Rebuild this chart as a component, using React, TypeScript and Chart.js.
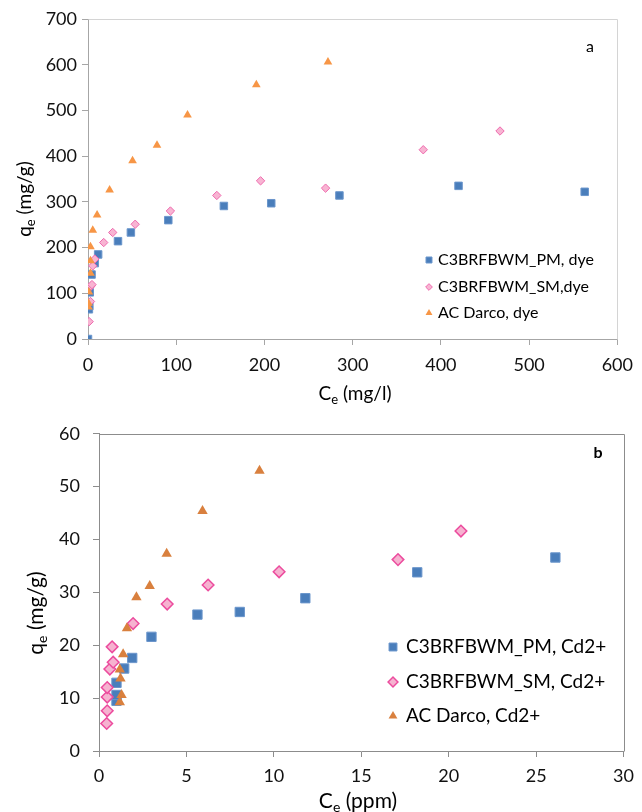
import React, { useEffect, useRef } from 'react';
import { Chart, registerables } from 'chart.js';
import { drawPoint } from 'chart.js/helpers';

Chart.register(...registerables);

const FONT = 'Lato, "Open Sans", sans-serif';

// ---------- Chart a: dye ----------
const dyeXTicks = [0, 100, 200, 300, 400, 500, 600];
const dyeYTicks = [0, 100, 200, 300, 400, 500, 600, 700];

const dyePmCe = [0, 1, 1.5, 2, 4, 7.7, 11.5, 34, 48.6, 91, 154, 207.7, 285, 420, 563];
const dyePmQe = [0, 65, 72, 102, 141, 166, 185, 214, 233, 260, 291, 297, 314, 335, 322];

const dyeSmCe = [1.3, 2.8, 3.6, 4.5, 5.4, 7.7, 17.8, 28, 53.5, 93.4, 146, 195.6, 269.3, 380, 467];
const dyeSmQe = [38, 82, 116, 119, 160, 175, 211, 233, 251, 280, 314, 346, 330, 414, 455];

const dyeAcCe = [0.6, 0.6, 1, 2.8, 2.8, 2.8, 5.4, 10.3, 24.5, 50.5, 78.2, 112.8, 190.8, 272];
const dyeAcQe = [70, 78, 103, 144, 171, 202, 238, 271, 326, 390, 424, 490, 556, 606];

const dyeLabels = ['C3BRFBWM_PM, dye', 'C3BRFBWM_SM,dye', 'AC Darco, dye'];

// ---------- Chart b: Cd2+ ----------
const cdXTicks = [0, 5, 10, 15, 20, 25, 30];
const cdYTicks = [0, 10, 20, 30, 40, 50, 60];

const cdPmCe = [1.0, 1.0, 1.0, 1.44, 1.9, 3.0, 5.63, 8.05, 11.8, 18.2, 26.1];
const cdPmQe = [9.5, 10.6, 12.9, 15.6, 17.6, 21.6, 25.8, 26.3, 28.9, 33.8, 36.6];

const cdSmCe = [0.44, 0.47, 0.47, 0.47, 0.62, 0.81, 0.75, 1.95, 3.9, 6.24, 10.3, 17.1, 20.7];
const cdSmQe = [5.2, 7.6, 10.2, 12.0, 15.5, 16.8, 19.7, 24.1, 27.8, 31.4, 33.9, 36.2, 41.6];

const cdAcCe = [1.19, 1.29, 1.23, 1.19, 1.38, 1.6, 2.14, 2.9, 3.87, 5.92, 9.18];
const cdAcQe = [9.2, 10.6, 13.7, 15.4, 18.3, 23.2, 29.1, 31.2, 37.3, 45.4, 53.0];

const cdLabels = ['C3BRFBWM_PM, Cd2+', 'C3BRFBWM_SM, Cd2+', 'AC Darco, Cd2+'];

const pts = (xs: number[], ys: number[]) => xs.map((x, i) => ({ x, y: ys[i] }));

type SeriesStyle = { style: string; radius: number; fill: string; stroke: string; bw: number };

function drawSub(ctx: CanvasRenderingContext2D, main: string, sub: string, rest: string, cx: number, cy: number, size: number, rotate: boolean) {
  ctx.save();
  ctx.translate(cx, cy);
  if (rotate) ctx.rotate(-Math.PI / 2);
  const subSize = Math.round(size * 0.68);
  ctx.font = `${size}px ${FONT}`;
  const w1 = ctx.measureText(main).width;
  const w3 = ctx.measureText(rest).width;
  ctx.font = `${subSize}px ${FONT}`;
  const w2 = ctx.measureText(sub).width;
  const total = w1 + w2 + w3;
  let x = -total / 2;
  ctx.fillStyle = '#000';
  ctx.textBaseline = 'middle';
  ctx.textAlign = 'left';
  ctx.font = `${size}px ${FONT}`;
  ctx.fillText(main, x, 0);
  x += w1;
  ctx.font = `${subSize}px ${FONT}`;
  ctx.fillText(sub, x, size * 0.3);
  x += w2;
  ctx.font = `${size}px ${FONT}`;
  ctx.fillText(rest, x, 0);
  ctx.restore();
}

type Decor = {
  frameColor: string;
  xTitle: [string, string, string];
  yTitle: [string, string, string];
  titleSize: number;
  xTitlePos: [number, number];
  yTitlePos: [number, number];
  letter: string;
  letterBold: boolean;
  letterPos: [number, number];
  legendLabels: string[];
  legendStyles: SeriesStyle[];
  legendX: number;
  legendTextX: number;
  legendY: number[];
  legendSize: number;
  legendScale: number;
};

function decorPlugin(d: Decor) {
  return {
    id: 'decor',
    beforeDatasetsDraw(chart: any) {
      const { ctx, chartArea } = chart;
      ctx.save();
      ctx.strokeStyle = d.frameColor;
      ctx.lineWidth = 1;
      ctx.beginPath();
      const l = Math.round(chartArea.left) + 0.5;
      const t = Math.round(chartArea.top) + 0.5;
      const r = Math.round(chartArea.right) + 0.5;
      const b = Math.round(chartArea.bottom) + 0.5;
      ctx.moveTo(l, t);
      ctx.lineTo(r, t);
      ctx.lineTo(r, b);
      ctx.stroke();
      ctx.restore();
    },
    afterDraw(chart: any) {
      const ctx: CanvasRenderingContext2D = chart.ctx;
      drawSub(ctx, d.xTitle[0], d.xTitle[1], d.xTitle[2], d.xTitlePos[0], d.xTitlePos[1], d.titleSize, false);
      drawSub(ctx, d.yTitle[0], d.yTitle[1], d.yTitle[2], d.yTitlePos[0], d.yTitlePos[1], d.titleSize, true);
      ctx.save();
      ctx.fillStyle = '#000';
      ctx.textAlign = 'center';
      ctx.textBaseline = 'middle';
      ctx.font = `${d.letterBold ? 'bold ' : ''}16px ${FONT}`;
      ctx.fillText(d.letter, d.letterPos[0], d.letterPos[1]);
      ctx.restore();
      d.legendLabels.forEach((label, i) => {
        const s = d.legendStyles[i];
        const y = d.legendY[i];
        ctx.save();
        ctx.fillStyle = s.fill;
        ctx.strokeStyle = s.stroke;
        ctx.lineWidth = s.bw;
        drawPoint(ctx, { pointStyle: s.style, radius: s.radius * d.legendScale, rotation: 0, borderWidth: s.bw } as any, d.legendX, y);
        ctx.fillStyle = '#000';
        ctx.font = `${d.legendSize}px ${FONT}`;
        ctx.textAlign = 'left';
        ctx.textBaseline = 'middle';
        ctx.fillText(label, d.legendTextX, y);
        ctx.restore();
      });
    },
  };
}

function makeConfig(opts: {
  series: { data: { x: number; y: number }[]; s: SeriesStyle; order: number }[];
  xTicks: number[];
  yTicks: number[];
  axisColor: string;
  padRight: number;
  yWidth: number;
  xHeight: number;
  tickSize: number;
  xPad: number;
  yPad: number;
  decor: Decor;
}) {
  const tickFont = { family: FONT, size: opts.tickSize };
  return {
    type: 'scatter',
    data: {
      datasets: opts.series.map((sr) => ({
        data: sr.data,
        pointStyle: sr.s.style,
        pointRadius: sr.s.radius,
        pointHoverRadius: sr.s.radius,
        pointBackgroundColor: sr.s.fill,
        pointBorderColor: sr.s.stroke,
        pointBorderWidth: sr.s.bw,
        showLine: false,
        order: sr.order,
      })),
    },
    options: {
      responsive: false,
      animation: false,
      events: [],
      layout: { padding: { left: 0, top: 19, right: opts.padRight, bottom: 0 } },
      plugins: { legend: { display: false }, tooltip: { enabled: false } },
      scales: {
        x: {
          type: 'linear',
          min: opts.xTicks[0],
          max: opts.xTicks[opts.xTicks.length - 1],
          afterBuildTicks: (s: any) => {
            s.ticks = opts.xTicks.map((v) => ({ value: v }));
          },
          afterFit: (s: any) => {
            s.height = opts.xHeight;
          },
          grid: { drawOnChartArea: false, drawTicks: true, tickLength: 6, color: opts.axisColor },
          border: { display: true, color: opts.axisColor },
          ticks: { font: tickFont, color: '#111', padding: opts.xPad, maxRotation: 0, autoSkip: false },
        },
        y: {
          type: 'linear',
          min: opts.yTicks[0],
          max: opts.yTicks[opts.yTicks.length - 1],
          afterBuildTicks: (s: any) => {
            s.ticks = opts.yTicks.map((v) => ({ value: v }));
          },
          afterFit: (s: any) => {
            s.width = opts.yWidth;
          },
          grid: { drawOnChartArea: false, drawTicks: true, tickLength: 6, color: opts.axisColor },
          border: { display: true, color: opts.axisColor },
          ticks: { font: tickFont, color: '#111', padding: opts.yPad, autoSkip: false },
        },
      },
    },
    plugins: [decorPlugin(opts.decor)],
  } as any;
}

const dyeStyles: SeriesStyle[] = [
  { style: 'rect', radius: 5.3, fill: '#4A7EBB', stroke: '#6B96CC', bw: 1 },
  { style: 'rectRot', radius: 4.2, fill: '#F8B4D2', stroke: '#EE6AAE', bw: 1 },
  { style: 'triangle', radius: 5, fill: '#F79646', stroke: '#F79646', bw: 0 },
];

const cdStyles: SeriesStyle[] = [
  { style: 'rect', radius: 6.6, fill: '#4A7EBB', stroke: '#6B96CC', bw: 1 },
  { style: 'rectRot', radius: 5.8, fill: '#F6B2D0', stroke: '#EC4C9E', bw: 1.5 },
  { style: 'triangle', radius: 6, fill: '#D9803E', stroke: '#D9803E', bw: 0 },
];

export default function App() {
  const topRef = useRef<HTMLCanvasElement>(null);
  const botRef = useRef<HTMLCanvasElement>(null);

  useEffect(() => {
    const top = new Chart(
      topRef.current as HTMLCanvasElement,
      makeConfig({
        series: [
          { data: pts(dyePmCe, dyePmQe), s: dyeStyles[0], order: 2 },
          { data: pts(dyeSmCe, dyeSmQe), s: dyeStyles[1], order: 1 },
          { data: pts(dyeAcCe, dyeAcQe), s: dyeStyles[2], order: 0 },
        ],
        xTicks: dyeXTicks,
        yTicks: dyeYTicks,
        axisColor: '#A6A6A6',
        padRight: 21,
        yWidth: 88,
        xHeight: 71,
        tickSize: 18,
        xPad: 9,
        yPad: 5,
        decor: {
          frameColor: '#D4D4D4',
          xTitle: ['C', 'e', ' (mg/l)'],
          yTitle: ['q', 'e', ' (mg/g)'],
          titleSize: 19,
          xTitlePos: [355, 394],
          yTitlePos: [25, 199],
          letter: 'a',
          letterBold: false,
          letterPos: [590, 47],
          legendLabels: dyeLabels,
          legendStyles: dyeStyles,
          legendX: 429,
          legendTextX: 438,
          legendY: [260, 287, 313],
          legendSize: 16,
          legendScale: 0.8,
        },
      })
    );
    const bot = new Chart(
      botRef.current as HTMLCanvasElement,
      makeConfig({
        series: [
          { data: pts(cdPmCe, cdPmQe), s: cdStyles[0], order: 2 },
          { data: pts(cdSmCe, cdSmQe), s: cdStyles[1], order: 1 },
          { data: pts(cdAcCe, cdAcQe), s: cdStyles[2], order: 0 },
        ],
        xTicks: cdXTicks,
        yTicks: cdYTicks,
        axisColor: '#8C8C8C',
        padRight: 14,
        yWidth: 99,
        xHeight: 61,
        tickSize: 18,
        xPad: 8,
        yPad: 13,
        decor: {
          frameColor: '#8C8C8C',
          xTitle: ['C', 'e', ' (ppm)'],
          yTitle: ['q', 'e', ' (mg/g)'],
          titleSize: 21,
          xTitlePos: [358, 391],
          yTitlePos: [36, 203],
          letter: 'b',
          letterBold: true,
          letterPos: [598, 43],
          legendLabels: cdLabels,
          legendStyles: cdStyles,
          legendX: 393,
          legendTextX: 406,
          legendY: [237, 272, 306],
          legendSize: 19,
          legendScale: 0.85,
        },
      })
    );
    return () => {
      top.destroy();
      bot.destroy();
    };
  }, []);

  return (
    <div style={{ position: 'absolute', left: 0, top: 0, width: 642, height: 812, background: '#fff' }}>
      <canvas ref={topRef} width={642} height={410} style={{ display: 'block', width: 642, height: 410 }} />
      <canvas ref={botRef} width={642} height={402} style={{ display: 'block', width: 642, height: 402 }} />
    </div>
  );
}
